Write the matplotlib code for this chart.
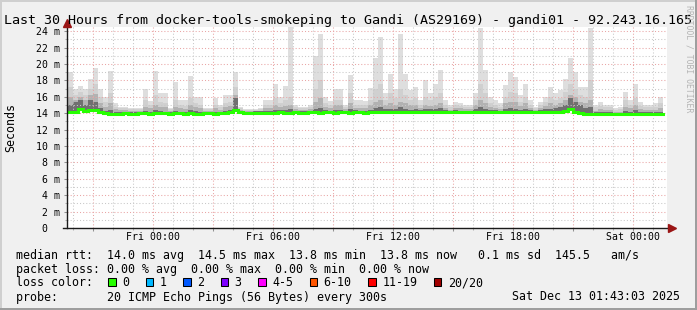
import numpy as np
import matplotlib
matplotlib.use("Agg")
import matplotlib.pyplot as plt
from matplotlib.lines import Line2D
from matplotlib.patches import Rectangle
from matplotlib.transforms import Affine2D

# ---------------- data ----------------
title = "Last 30 Hours from docker-tools-smokeping to Gandi (AS29169) - gandi01 - 92.243.16.165"

# time in hours relative to Fri 00:00; 15-minute bins
t_start = -4.25
t_step = 0.25
x_min, x_max = -4.283, 25.717

ping_max = [19.0, 16.9, 17.3, 17.0, 18.2, 19.5, 17.0, 16.0, 19.1, 15.2,
            14.8, 14.8, 14.6, 14.6, 14.6, 16.9, 15.5, 19.1, 16.4, 16.4,
            14.6, 17.8, 15.6, 15.6, 18.5, 16.0, 16.0, 14.6, 14.6, 15.8,
            15.0, 16.2, 16.2, 19.0, 14.8, 14.5, 14.5, 14.5, 14.6, 15.6,
            15.6, 17.5, 16.0, 17.3, 24.6, 15.0, 14.8, 14.8, 15.0, 21.0,
            23.7, 16.0, 15.5, 16.9, 17.0, 15.0, 18.7, 15.6, 15.6, 15.5,
            17.1, 20.7, 23.3, 16.5, 18.8, 17.0, 23.7, 18.8, 16.8, 17.2,
            15.6, 18.0, 16.5, 17.6, 19.2, 15.6, 15.0, 15.4, 15.2, 15.0,
            15.0, 16.4, 24.4, 19.2, 16.0, 15.6, 15.2, 17.4, 19.0, 18.4,
            16.2, 17.6, 15.6, 14.8, 15.3, 16.0, 17.2, 16.4, 16.8, 18.2,
            20.7, 19.0, 17.2, 17.2, 24.4, 15.0, 15.3, 15.0, 15.0, 14.6,
            14.8, 16.6, 15.6, 17.6, 15.4, 15.0, 15.0, 15.2, 16.0]

ping_p90 = [17.2, 16.2, 16.6, 16.2, 17.0, 17.5, 16.0, 15.4, 16.5, 14.8,
            14.6, 14.6, 14.5, 14.5, 14.5, 15.6, 15.0, 16.2, 15.4, 15.2,
            14.5, 15.6, 15.0, 14.9, 15.8, 15.2, 15.0, 14.5, 14.5, 15.0,
            14.7, 15.2, 15.4, 17.2, 14.6, 14.4, 14.4, 14.4, 14.5, 15.0,
            15.0, 15.8, 15.2, 15.6, 16.0, 14.7, 14.6, 14.6, 14.7, 17.0,
            18.0, 15.2, 15.0, 15.6, 15.6, 14.8, 16.4, 15.0, 15.0, 15.0,
            15.6, 17.0, 17.5, 15.6, 16.4, 15.8, 17.0, 16.2, 15.6, 15.8,
            15.0, 16.0, 15.6, 16.0, 16.4, 15.0, 14.7, 15.0, 14.9, 14.7,
            14.7, 15.6, 17.5, 16.4, 15.2, 15.0, 14.8, 16.0, 16.6, 16.4,
            15.4, 16.0, 15.0, 14.6, 15.0, 15.4, 16.0, 15.6, 15.8, 16.6,
            17.6, 17.0, 16.2, 16.0, 18.0, 14.7, 14.9, 14.7, 14.7, 14.4,
            14.5, 15.6, 15.0, 15.8, 14.9, 14.7, 14.7, 14.8, 15.2]

ping_p75 = [16.0, 15.6, 16.0, 15.6, 16.2, 16.3, 15.2, 14.8, 15.2, 14.5,
            14.4, 14.4, 14.3, 14.3, 14.3, 14.8, 14.6, 15.0, 14.8, 14.7,
            14.3, 14.8, 14.6, 14.5, 15.0, 14.7, 14.6, 14.3, 14.3, 14.6,
            14.4, 14.7, 14.9, 16.2, 14.4, 14.3, 14.3, 14.3, 14.3, 14.6,
            14.6, 15.0, 14.8, 14.9, 15.0, 14.5, 14.4, 14.4, 14.5, 15.4,
            15.8, 14.8, 14.6, 15.0, 15.0, 14.5, 15.2, 14.6, 14.6, 14.6,
            15.0, 15.4, 15.6, 15.0, 15.2, 15.0, 15.4, 15.2, 15.0, 15.0,
            14.6, 15.0, 14.9, 15.0, 15.2, 14.6, 14.4, 14.6, 14.6, 14.5,
            14.5, 15.0, 15.6, 15.2, 14.8, 14.6, 14.5, 15.2, 15.4, 15.3,
            14.9, 15.2, 14.6, 14.4, 14.6, 14.9, 15.2, 15.0, 15.2, 15.6,
            16.2, 16.0, 15.4, 15.2, 15.6, 14.3, 14.5, 14.4, 14.4, 14.2,
            14.2, 14.8, 14.6, 15.0, 14.5, 14.4, 14.4, 14.4, 14.6]

ping_p60 = [15.0, 15.4, 15.6, 15.0, 15.6, 15.4, 14.6, 14.3, 14.4, 14.2,
            14.2, 14.2, 14.15, 14.2, 14.2, 14.3, 14.2, 14.4, 14.3, 14.2,
            14.15, 14.3, 14.2, 14.2, 14.4, 14.3, 14.2, 14.15, 14.15, 14.2,
            14.2, 14.3, 14.4, 15.8, 14.3, 14.2, 14.2, 14.25, 14.25, 14.3,
            14.3, 14.4, 14.35, 14.4, 14.5, 14.3, 14.25, 14.25, 14.3, 14.5,
            14.6, 14.35, 14.3, 14.4, 14.4, 14.3, 14.5, 14.35, 14.3, 14.3,
            14.4, 14.6, 14.7, 14.5, 14.5, 14.5, 14.7, 14.5, 14.4, 14.5,
            14.35, 14.5, 14.45, 14.5, 14.6, 14.35, 14.3, 14.35, 14.3, 14.3,
            14.3, 14.45, 14.7, 14.5, 14.4, 14.35, 14.3, 14.5, 14.6, 14.55,
            14.4, 14.5, 14.35, 14.3, 14.4, 14.5, 14.5, 14.6, 14.7, 15.0,
            15.8, 15.4, 15.0, 14.6, 14.8, 14.1, 14.1, 14.1, 14.1, 14.05,
            14.05, 14.3, 14.2, 14.4, 14.1, 14.1, 14.1, 14.1, 14.2]

median_rtt = [14.2, 14.2, 14.5, 14.3, 14.4, 14.4, 14.1, 14.0, 13.9, 13.9,
              13.95, 14.0, 13.95, 13.95, 14.0, 14.0, 13.95, 14.0, 14.05, 14.0,
              13.95, 14.0, 14.0, 13.95, 14.0, 13.95, 13.95, 14.0, 14.0, 13.95,
              14.0, 14.05, 14.15, 14.4, 14.1, 14.0, 14.0, 14.05, 14.05, 14.0,
              14.05, 14.05, 14.1, 14.05, 14.05, 14.1, 14.05, 14.05, 14.1, 14.1,
              14.05, 14.1, 14.1, 14.05, 14.1, 14.1, 14.05, 14.1, 14.1, 14.05,
              14.1, 14.15, 14.15, 14.1, 14.15, 14.2, 14.15, 14.15, 14.1, 14.15,
              14.1, 14.15, 14.15, 14.2, 14.15, 14.1, 14.15, 14.15, 14.1, 14.1,
              14.15, 14.1, 14.15, 14.2, 14.15, 14.15, 14.1, 14.15, 14.2, 14.2,
              14.15, 14.1, 14.2, 14.15, 14.1, 14.1, 14.1, 14.15, 14.2, 14.3,
              14.45, 14.2, 14.0, 13.9, 13.9, 13.85, 13.85, 13.9, 13.85, 13.85,
              13.9, 13.9, 13.85, 13.9, 13.9, 13.85, 13.85, 13.85, 13.85]

x_tick_pos = [-3, 0, 3, 6, 9, 12, 15, 18, 21, 24]
x_tick_labels = ["", "Fri 00:00", "", "Fri 06:00", "", "Fri 12:00", "",
                 "Fri 18:00", "", "Sat 00:00"]
y_tick_pos = [0, 2, 4, 6, 8, 10, 12, 14, 16, 18, 20, 22, 24]
y_tick_labels = [" 0", " 2 m", " 4 m", " 6 m", " 8 m", "10 m", "12 m",
                 "14 m", "16 m", "18 m", "20 m", "22 m", "24 m"]
y_max = 24.5

legend_line1 = "median rtt:  14.0 ms avg  14.5 ms max  13.8 ms min  13.8 ms now   0.1 ms sd  145.5   am/s"
legend_line2 = "packet loss: 0.00 % avg  0.00 % max  0.00 % min  0.00 % now"
loss_labels = ["0", "1", "2", "3", "4-5", "6-10", "11-19", "20/20"]
loss_colors = ["#26ff00", "#00b8ff", "#0059ff", "#7e00ff", "#ff00ff",
               "#ff5500", "#ff0000", "#a10000"]
probe_text = "probe:       20 ICMP Echo Pings (56 Bytes) every 300s"
date_text = "Sat Dec 13 01:43:03 2025"

for arr in (ping_max, ping_p90, ping_p75, ping_p60):
    assert len(arr) == len(median_rtt), len(arr)

# ---------------- figure ----------------
W, H = 697, 310
MONO = "DejaVu Sans Mono"
plt.rcParams["font.family"] = MONO
fig = plt.figure(figsize=(W / 100, H / 100), dpi=100, facecolor="#F0F0F0")
pix = Affine2D().scale(1 / W, -1 / H).translate(0, 1) + fig.transFigure

# frame shading
fig.add_artist(Rectangle((0, 0), W, 2, transform=pix, color="#CFCFCF", lw=0))
fig.add_artist(Rectangle((0, 0), 2, H, transform=pix, color="#CFCFCF", lw=0))
fig.add_artist(Rectangle((0, H - 2), W, 2, transform=pix, color="#9E9E9E", lw=0))
fig.add_artist(Rectangle((W - 2, 0), 2, H, transform=pix, color="#9E9E9E", lw=0))

ax_l, ax_r, ax_t, ax_b = 67, 667, 27, 228
ax = fig.add_axes([ax_l / W, 1 - ax_b / H, (ax_r - ax_l) / W, (ax_b - ax_t) / H])
ax.set_facecolor("white")
for s in ax.spines.values():
    s.set_visible(False)

n = len(median_rtt)
edges = t_start + t_step * np.arange(n + 1)


def ext(a):
    a = np.asarray(a, float)
    return np.append(a, a[-1])


med = ext(median_rtt)
p60 = np.maximum(ext(ping_p60), med)
p75 = np.maximum(ext(ping_p75), p60)
p90 = np.maximum(ext(ping_p90), p75)
pmx = np.maximum(ext(ping_max), p90)

ax.fill_between(edges, med - 0.2, pmx, step="post", color="#DEDEDE", lw=0, zorder=1.0)
ax.fill_between(edges, med - 0.15, p90, step="post", color="#D0D0D0", lw=0, zorder=1.1)
ax.fill_between(edges, med - 0.1, p75, step="post", color="#B2B2B2", lw=0, zorder=1.2)
ax.fill_between(edges, med, p60, step="post", color="#707070", lw=0, zorder=1.3)
ax.step(edges, med, where="post", color="#26ff00", lw=2.2, zorder=3,
        solid_joinstyle="miter")

ax.set_xlim(x_min, x_max)
ax.set_ylim(0, y_max)

ax.set_xticks(x_tick_pos, x_tick_labels)
ax.set_xticks(np.arange(-4, 26, 1), minor=True)
ax.set_yticks(y_tick_pos, y_tick_labels)
ax.set_yticks(np.arange(1, 24, 2), minor=True)

ax.set_axisbelow(False)
ax.grid(which="major", color="#E9A5A5", linestyle=(0, (1, 2)), lw=0.75)
ax.grid(which="minor", color="#C8C8C8", linestyle=(0, (1, 2)), lw=0.75)

ax.tick_params(axis="x", which="major", length=2.2, width=0.75, color="#909090",
               pad=1.0, labelsize=7.1, labelcolor="black")
ax.tick_params(axis="x", which="minor", length=1.4, width=0.75, color="#B0B0B0")
ax.tick_params(axis="y", which="major", length=2.2, width=0.75, color="#909090",
               pad=20.2, labelsize=7.1, labelcolor="black")
ax.tick_params(axis="y", which="minor", length=1.4, width=0.75, color="#B0B0B0")
for lbl in ax.get_yticklabels():
    lbl.set_horizontalalignment("left")
    lbl.set_family(MONO)
for lbl in ax.get_xticklabels():
    lbl.set_family(MONO)

# axis lines with arrows
axis_col = "#1A1A1A"
arrow_col = "#9A1515"
w_px, h_px = ax_r - ax_l, ax_b - ax_t
ax.add_line(Line2D([0, 0], [0, (ax_b - 23) / h_px], transform=ax.transAxes,
                   color=axis_col, lw=1.0, clip_on=False, zorder=6))
ax.add_line(Line2D([-4 / w_px, (672 - ax_l) / w_px], [0, 0], transform=ax.transAxes,
                   color=axis_col, lw=1.0, clip_on=False, zorder=6))
ax.plot([0], [(ax_b - 23.5) / h_px], marker="^", ms=5.5, color=arrow_col,
        mec=arrow_col, transform=ax.transAxes, clip_on=False, zorder=7)
ax.plot([(671.5 - ax_l) / w_px], [0], marker=">", ms=5.5, color=arrow_col,
        mec=arrow_col, transform=ax.transAxes, clip_on=False, zorder=7)

# texts
fig.text(348.5, 24, title, transform=pix, ha="center", va="baseline",
         fontsize=9.6, family=MONO, color="black")
fig.text(10.5, 127, "Seconds", transform=pix, rotation=90, ha="center",
         va="center", fontsize=8.4, family=MONO, color="black")
fig.text(688.5, 59, "RRDTOOL / TOBI OETIKER", transform=pix, rotation=270,
         ha="center", va="center", fontsize=5.9, family=MONO, color="#B4B4B4")

LF = 8.4
CW = 7.02
fig.text(16, 258.5, legend_line1, transform=pix, ha="left", va="baseline",
         fontsize=LF, family=MONO)
fig.text(16, 272.5, legend_line2, transform=pix, ha="left", va="baseline",
         fontsize=LF, family=MONO)
fig.text(16, 286.5, "loss color:", transform=pix, ha="left", va="baseline",
         fontsize=LF, family=MONO)
bx = 108.0
for lab, col in zip(loss_labels, loss_colors):
    fig.add_artist(Rectangle((bx, 278), 7.5, 7.5, transform=pix, facecolor=col,
                             edgecolor="black", lw=0.75))
    fig.text(bx + 14, 286.5, lab, transform=pix, ha="left", va="baseline",
             fontsize=LF, family=MONO)
    bx = bx + 14 + len(lab) * CW + 16.5
fig.text(16, 300.5, probe_text, transform=pix, ha="left", va="baseline",
         fontsize=LF, family=MONO)
fig.text(680, 300.5, date_text, transform=pix, ha="right", va="baseline",
         fontsize=LF, family=MONO)

fig.savefig("out.png", dpi=100, facecolor=fig.get_facecolor())
